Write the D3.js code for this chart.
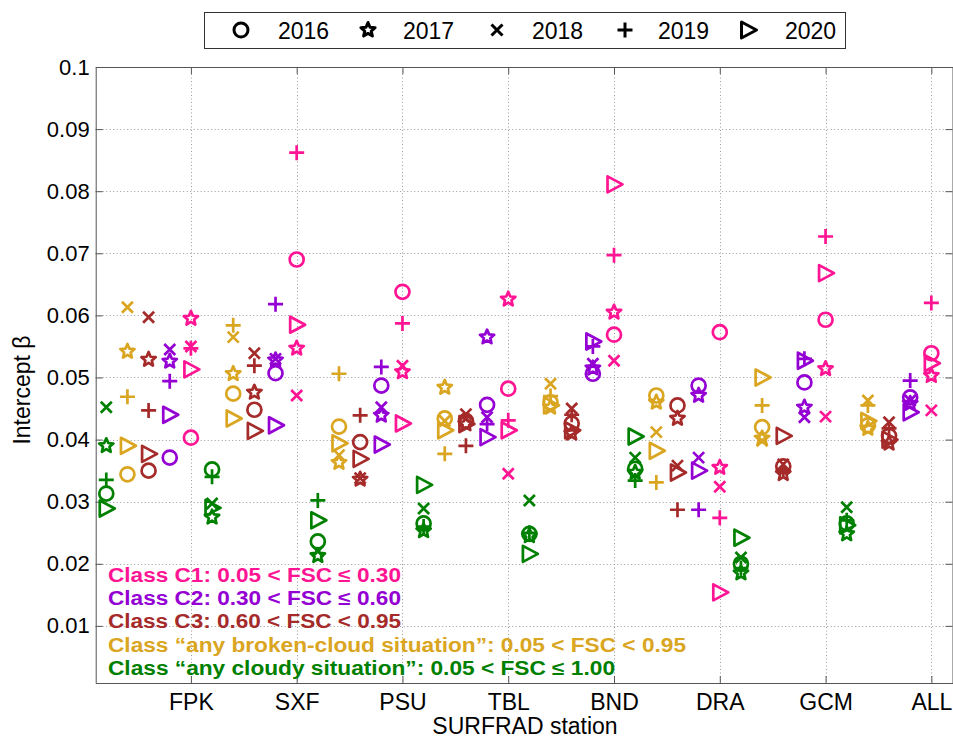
<!DOCTYPE html>
<html>
<head>
<meta charset="utf-8">
<script src="https://cdn.jsdelivr.net/npm/d3@7"></script>
<style>
    body { margin: 0; background: #fff; }
    text { font-family: "Liberation Sans", Arial, sans-serif; }
</style>
</head>
<body>
<div id="chart"></div>
<script>
// stations on the x axis and years (one marker per year)
const stations = ['FPK', 'SXF', 'PSU', 'TBL', 'BND', 'DRA', 'GCM', 'ALL'];
const years = ['2016', '2017', '2018', '2019', '2020'];
const yTicks = [0.01, 0.02, 0.03, 0.04, 0.05, 0.06, 0.07, 0.08, 0.09, 0.1];

// intercept values, one row per station, columns = 2016..2020
const c1Values = [
    [0.0403, 0.0595, 0.0550, 0.0547, 0.0513],
    [0.0690, 0.0547, 0.0471, 0.0862, 0.0585],
    [0.0638, 0.0509, 0.0519, 0.0587, 0.0426],
    [0.0482, 0.0626, 0.0345, 0.0431, 0.0415],
    [0.0569, 0.0605, 0.0527, 0.0697, 0.0811],
    [0.0573, 0.0355, 0.0324, 0.0274, 0.0154],
    [0.0593, 0.0514, 0.0437, 0.0727, 0.0668],
    [0.0539, 0.0503, 0.0447, 0.0620, 0.0523]
];
const c2Values = [
    [0.0371, 0.0526, 0.0545, 0.0494, 0.0440],
    [0.0507, 0.0528, 0.0530, 0.0618, 0.0423],
    [0.0487, 0.0439, 0.0452, 0.0517, 0.0392],
    [0.0456, 0.0565, 0.0436, 0.0425, 0.0404],
    [0.0506, 0.0515, 0.0522, 0.0550, 0.0558],
    [0.0487, 0.0471, 0.0371, 0.0287, 0.0350],
    [0.0492, 0.0452, 0.0436, 0.0530, 0.0527],
    [0.0468, 0.0458, 0.0463, 0.0495, 0.0444]
];
const c3Values = [
    [0.0350, 0.0529, 0.0597, 0.0447, 0.0377],
    [0.0448, 0.0476, 0.0539, 0.0519, 0.0414],
    [0.0396, 0.0336, 0.0338, 0.0439, 0.0369],
    [0.0430, 0.0425, 0.0441, 0.0390, 0.0425],
    [0.0426, 0.0410, 0.0450, 0.0440, 0.0415],
    [0.0455, 0.0434, 0.0358, 0.0287, 0.0347],
    [0.0357, 0.0345, 0.0360, 0.0352, 0.0406],
    [0.0406, 0.0394, 0.0428, 0.0418, 0.0400]
];
const brokenValues = [
    [0.0344, 0.0542, 0.0613, 0.0469, 0.0390],
    [0.0474, 0.0506, 0.0565, 0.0584, 0.0434],
    [0.0421, 0.0363, 0.0375, 0.0506, 0.0394],
    [0.0434, 0.0484, 0.0430, 0.0377, 0.0415],
    [0.0460, 0.0452, 0.0490, 0.0470, 0.0455],
    [0.0471, 0.0460, 0.0412, 0.0331, 0.0382],
    [0.0420, 0.0402, 0.0398, 0.0455, 0.0500],
    [0.0423, 0.0418, 0.0463, 0.0455, 0.0430]
];
const cloudyValues = [
    [0.0313, 0.0390, 0.0452, 0.0335, 0.0289],
    [0.0352, 0.0275, 0.0297, 0.0340, 0.0290],
    [0.0236, 0.0213, 0.0220, 0.0302, 0.0270],
    [0.0265, 0.0253, 0.0289, 0.0260, 0.0327],
    [0.0248, 0.0245, 0.0302, 0.0250, 0.0216],
    [0.0353, 0.0347, 0.0371, 0.0334, 0.0405],
    [0.0200, 0.0185, 0.0210, 0.0193, 0.0242],
    [0.0265, 0.0248, 0.0291, 0.0270, 0.0262]
];

const classLabels = [
    'Class C1: 0.05 < FSC \u2264 0.30',
    'Class C2: 0.30 < FSC \u2264 0.60',
    'Class C3: 0.60 < FSC < 0.95',
    'Class \u201Cany broken-cloud situation\u201D: 0.05 < FSC < 0.95',
    'Class \u201Cany cloudy situation\u201D: 0.05 < FSC \u2264 1.00'
];

function init() {

    const width = 953;
    const height = 740;

    // classes from left to right inside each station group
    const classes = [
        { values: cloudyValues, color: '#008000', offset: -0.8 },
        { values: brokenValues, color: '#DAA520', offset: -0.6 },
        { values: c3Values, color: '#A52A2A', offset: -0.4 },
        { values: c2Values, color: '#9400D3', offset: -0.2 },
        { values: c1Values, color: '#FF1493', offset: 0 }
    ];
    const labelColors = ['#FF1493', '#9400D3', '#A52A2A', '#DAA520', '#008000'];
    const labelWidths = [293, 293, 293, 578, 507];
    const markerTypes = ['circle', 'star', 'cross', 'plus', 'triangle'];

    const x = d3.scaleLinear().domain([0.1, 8.2]).range([95.7, 952.5]);
    const y = d3.scaleLinear().domain([0.0008, 0.1]).range([683, 67]);

    const svg = d3.select('#chart')
        .append('svg')
        .attr('width', width)
        .attr('height', height);

    /*************************** grid ***************************/

    const grid = svg.append('g')
        .attr('stroke', '#9a9a9a')
        .attr('stroke-width', 1)
        .attr('stroke-dasharray', '1,2.5');

    grid.selectAll('.hgrid')
        .data(yTicks.filter(d => d < 0.1))
        .enter().append('line')
        .attr('x1', x(0.1)).attr('x2', x(8.2))
        .attr('y1', d => Math.round(y(d)) + 0.5)
        .attr('y2', d => Math.round(y(d)) + 0.5);

    grid.selectAll('.vgrid')
        .data(d3.range(1, stations.length + 1))
        .enter().append('line')
        .attr('x1', d => Math.round(x(d)) + 0.5)
        .attr('x2', d => Math.round(x(d)) + 0.5)
        .attr('y1', y(0.1)).attr('y2', y(0.0008));

    /*************************** axes ***************************/

    const axisColor = '#555';

    const yAxis = svg.append('g')
        .attr('transform', `translate(${x(0.1)},0)`)
        .call(d3.axisLeft(y).tickValues(yTicks).tickSize(-7).tickSizeOuter(0).tickPadding(6)
            .tickFormat(d => String(+d.toFixed(2))));

    const xAxis = svg.append('g')
        .attr('transform', `translate(0,${y(0.0008)})`)
        .call(d3.axisBottom(x).tickValues(d3.range(1, 9)).tickSize(-7).tickSizeOuter(0).tickPadding(11)
            .tickFormat((d, i) => stations[i]));

    const yAxisRight = svg.append('g')
        .attr('transform', `translate(${x(8.2)},0)`)
        .call(d3.axisRight(y).tickValues(yTicks).tickSize(-7).tickSizeOuter(0).tickFormat(''));

    const xAxisTop = svg.append('g')
        .attr('transform', `translate(0,${y(0.1)})`)
        .call(d3.axisTop(x).tickValues(d3.range(1, 9)).tickSize(-7).tickSizeOuter(0).tickFormat(''));

    [yAxis, xAxis, yAxisRight, xAxisTop].forEach(a => {
        a.select('.domain').attr('stroke', axisColor);
        a.selectAll('.tick line').attr('stroke', axisColor);
        a.selectAll('text')
            .attr('fill', '#000')
            .style('font-size', '22px')
            .style('font-family', '"Liberation Sans", Arial, sans-serif');
    });
    xAxis.selectAll('text').style('font-size', '23px');

    // axis titles
    svg.append('text')
        .attr('x', 525)
        .attr('y', 734)
        .attr('text-anchor', 'middle')
        .style('font-size', '23px')
        .text('SURFRAD station');

    svg.append('text')
        .attr('transform', 'translate(30,390) rotate(-90)')
        .attr('text-anchor', 'middle')
        .style('font-size', '23px')
        .text('Intercept \u03B2');

    /*************************** markers ***************************/

    function starPath(R, r) {
        const pts = d3.range(10).map(i => {
            const a = -Math.PI / 2 + i * Math.PI / 5;
            const rad = i % 2 === 0 ? R : r;
            return [rad * Math.cos(a), rad * Math.sin(a)];
        });
        return 'M' + pts.map(p => p.join(',')).join('L') + 'Z';
    }

    const markerPaths = {
        star: starPath(7.5, 3.4),
        cross: 'M-5.5,-5.5L5.5,5.5M-5.5,5.5L5.5,-5.5',
        plus: 'M-7.5,0L7.5,0M0,-7.5L0,7.5',
        triangle: 'M-6.5,-8L8.5,0L-6.5,8Z'
    };

    function drawMarker(sel, type, color, sw) {
        if (type === 'circle') {
            sel.append('circle')
                .attr('r', 7)
                .attr('fill', 'none')
                .attr('stroke', color)
                .attr('stroke-width', sw);
        } else {
            sel.append('path')
                .attr('d', markerPaths[type])
                .attr('fill', 'none')
                .attr('stroke', color)
                .attr('stroke-width', sw)
                .attr('stroke-linejoin', 'round');
        }
    }

    const points = [];
    classes.forEach(c => {
        c.values.forEach((row, s) => {
            row.forEach((v, k) => {
                points.push({ xv: s + 1 + c.offset, v: v, type: markerTypes[k], color: c.color });
            });
        });
    });

    const pts = svg.append('g')
        .selectAll('g')
        .data(points)
        .enter().append('g')
        .attr('transform', d => `translate(${x(d.xv)},${y(d.v)})`);

    pts.each(function(d) {
        drawMarker(d3.select(this), d.type, d.color, 2.7);
    });

    /*************************** class labels ***************************/

    svg.append('g')
        .selectAll('text')
        .data(classLabels)
        .enter().append('text')
        .attr('x', 108)
        .attr('y', (d, i) => 581.7 + i * 23.3)
        .attr('fill', (d, i) => labelColors[i])
        .attr('textLength', (d, i) => labelWidths[i])
        .attr('lengthAdjust', 'spacingAndGlyphs')
        .style('font-size', '19.5px')
        .style('font-weight', 'bold')
        .text(d => d);

    /*************************** legend ***************************/

    const legend = svg.append('g');
    legend.append('rect')
        .attr('x', 204.5).attr('y', 12.5)
        .attr('width', 641).attr('height', 36)
        .attr('fill', '#fff')
        .attr('stroke', '#333')
        .attr('stroke-width', 1);

    const legendMarkerX = [241, 368, 497, 625, 748];
    const legendTextX = [278, 403, 532, 658, 785];

    years.forEach((yr, i) => {
        const g = legend.append('g').attr('transform', `translate(${legendMarkerX[i]},30)`);
        drawMarker(g, markerTypes[i], '#000', 3);
        legend.append('text')
            .attr('x', legendTextX[i])
            .attr('y', 38.5)
            .style('font-size', '23px')
            .text(yr);
    });
}

window.onload = init;
</script>
</body>
</html>
